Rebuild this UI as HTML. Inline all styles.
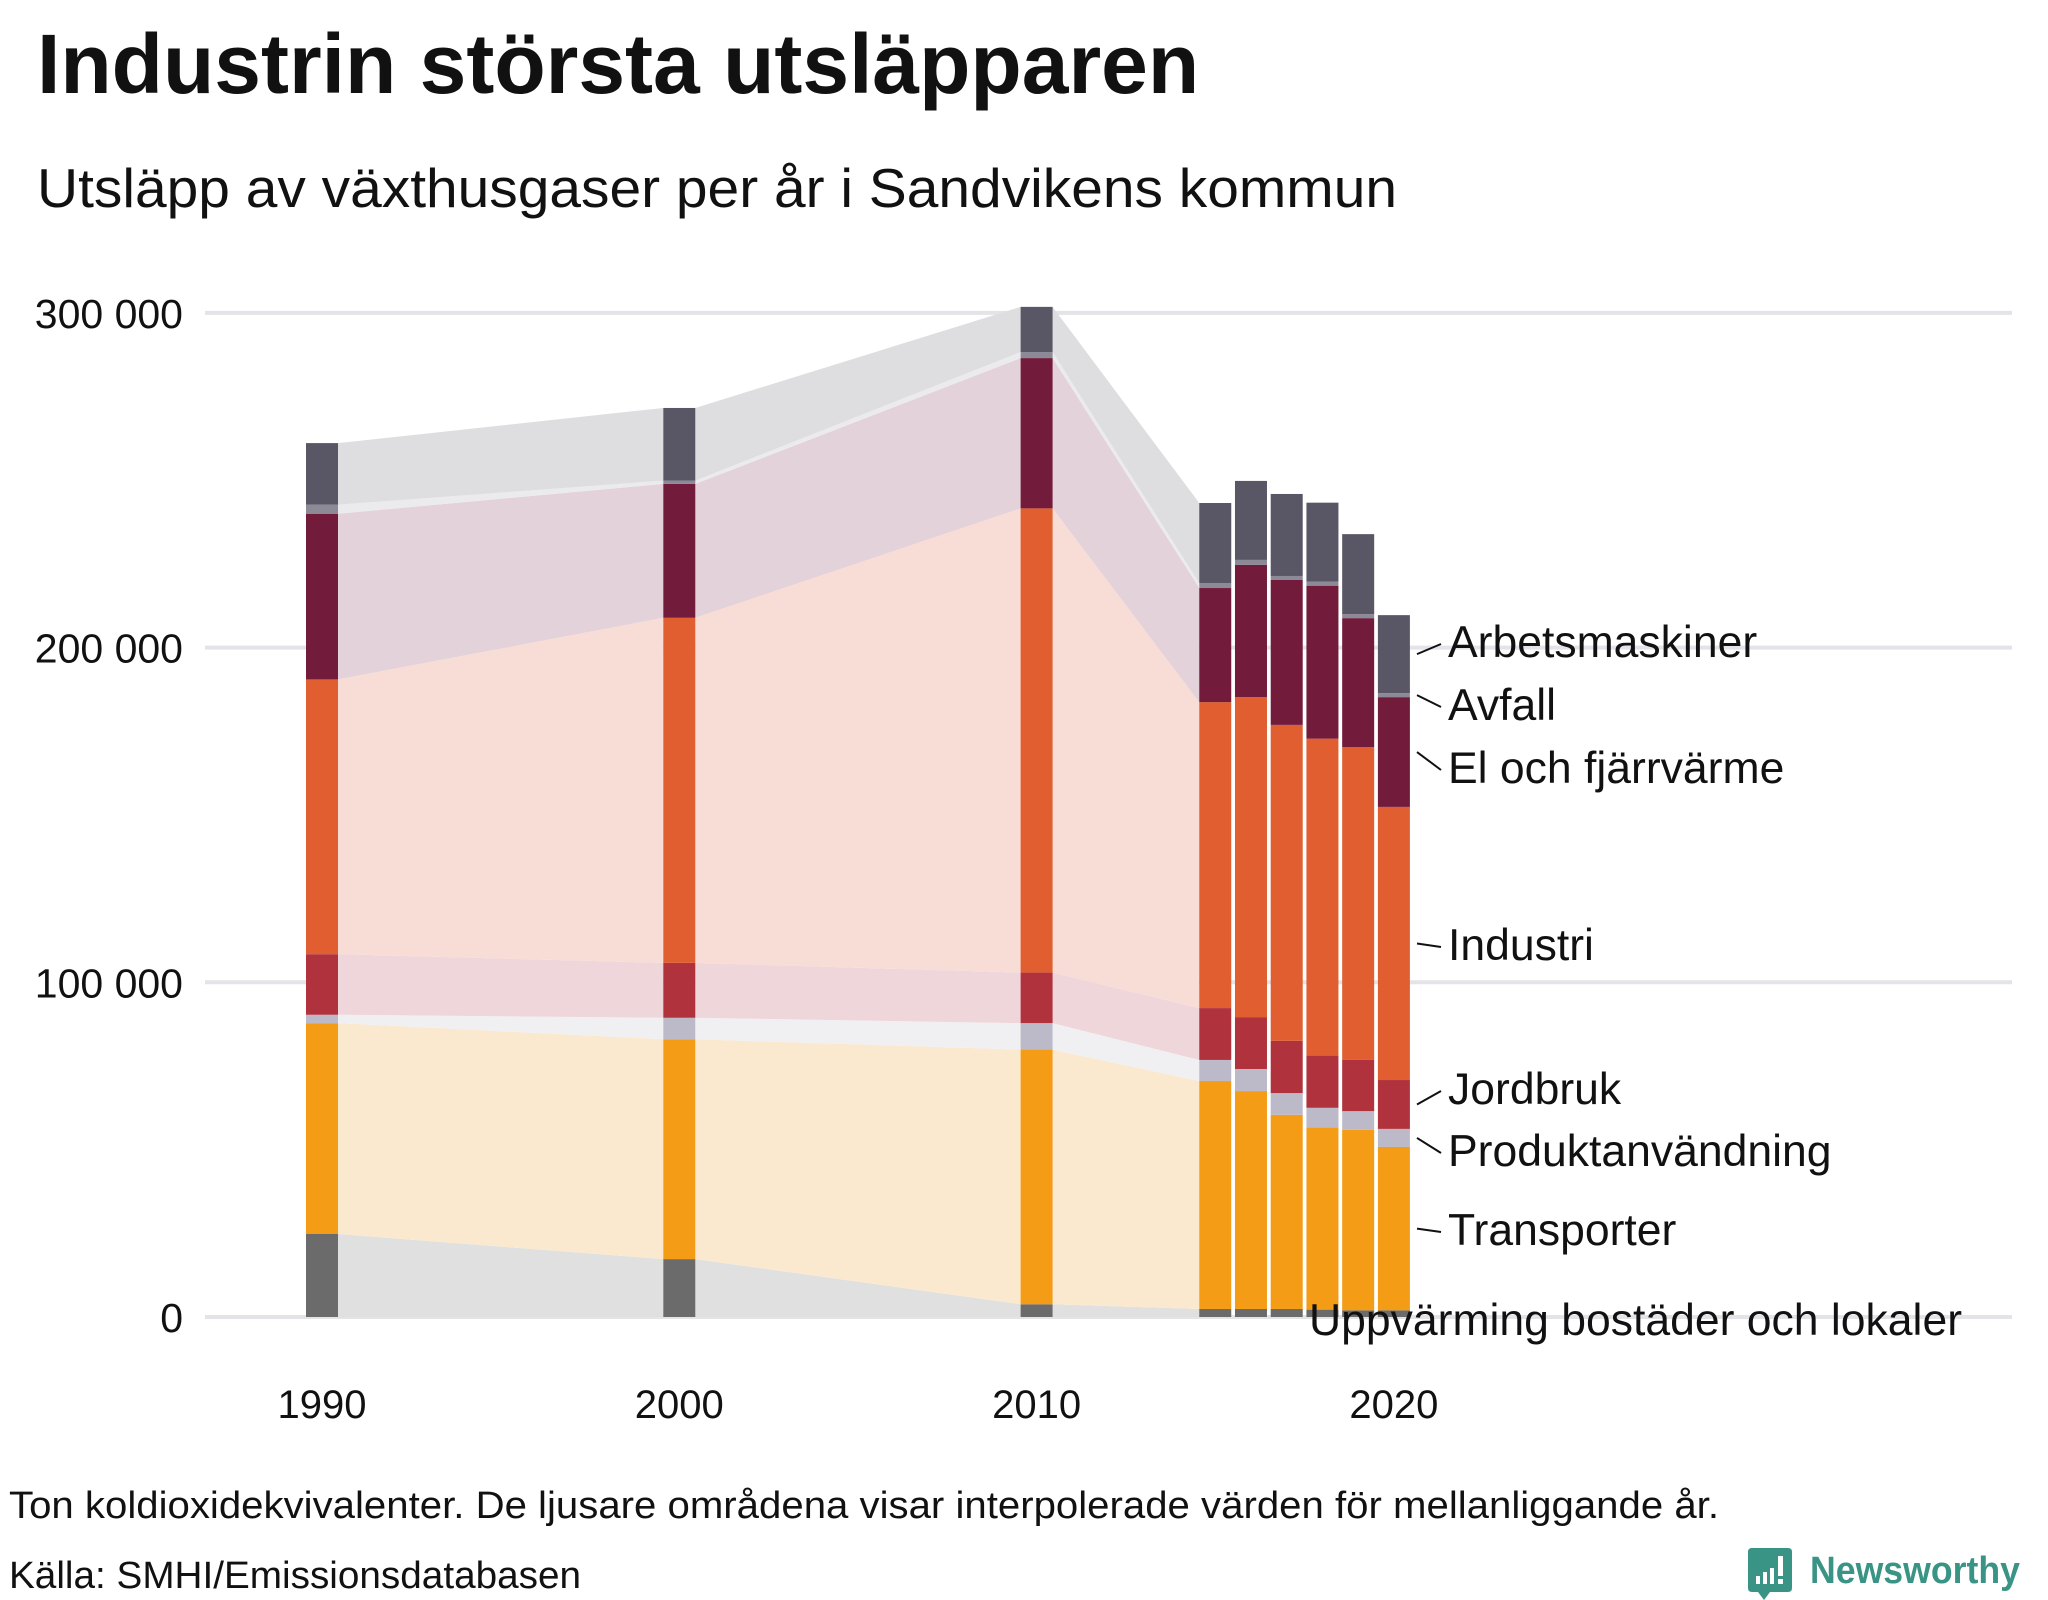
<!DOCTYPE html>
<html><head><meta charset="utf-8"><style>
html,body{margin:0;padding:0;background:#fff;width:2048px;height:1600px;overflow:hidden}
svg{display:block}
text{font-family:"Liberation Sans",sans-serif}
</style></head><body>
<svg id="chart" width="2048" height="1600" viewBox="0 0 2048 1600">
<text x="37" y="93" font-size="84" font-weight="bold" fill="#111">Industrin största utsläpparen</text>
<text x="37" y="207" font-size="55" fill="#111" textLength="1360" lengthAdjust="spacingAndGlyphs">Utsläpp av växthusgaser per år i Sandvikens kommun</text>
<g id="grid"></g>
<g id="ylabels"></g>
<g id="bands"></g>
<g id="bars"></g>
<g id="xlabels"></g>
<g id="legend"></g>
<text x="9" y="1518" font-size="38" fill="#111" textLength="1710" lengthAdjust="spacingAndGlyphs">Ton koldioxidekvivalenter. De ljusare områdena visar interpolerade värden för mellanliggande år.</text>
<text x="9" y="1588" font-size="38" fill="#111" textLength="572" lengthAdjust="spacingAndGlyphs">Källa: SMHI/Emissionsdatabasen</text>
<g>
<path d="M1748 1552 q0-4 4-4 h36 q4 0 4 4 v36 q0 4-4 4 h-18 l-6 8 l-6-8 h-6 q-4 0-4-4z" fill="#3a9485"/>
<rect x="1756" y="1576" width="4" height="8" fill="#fff"/><rect x="1763" y="1572" width="4" height="12" fill="#fff"/><rect x="1770" y="1568" width="4" height="16" fill="#fff"/><rect x="1778" y="1556" width="5" height="20" fill="#fff"/><rect x="1778" y="1579" width="5" height="5" fill="#fff"/>
<text x="1810" y="1583" font-size="38" font-weight="bold" fill="#3a9485" textLength="210" lengthAdjust="spacingAndGlyphs">Newsworthy</text>
</g>
</svg>
<script>
const years = [1990, 2000, 2010, 2015, 2016, 2017, 2018, 2019, 2020];
const seriesNames = ["Uppvärming bostäder och lokaler","Transporter","Produktanvändning","Jordbruk","Industri","El och fjärrvärme","Avfall","Arbetsmaskiner"];
const uppvarming = [24.8, 17.3, 3.8, 2.4, 2.4, 2.4, 2.2, 2.0, 2.0];
const transporter = [63.0, 65.7, 76.1, 68.1, 65.1, 58.0, 54.4, 53.9, 48.8];
const produkt = [2.5, 6.4, 7.9, 6.3, 6.6, 6.5, 5.9, 5.6, 5.4];
const jordbruk = [18.1, 16.4, 15.1, 15.5, 15.5, 15.6, 15.6, 15.3, 14.6];
const industri = [82.1, 103.1, 138.7, 91.4, 95.6, 94.4, 94.7, 93.5, 81.6];
const elFjarr = [49.5, 40.0, 44.9, 34.1, 39.5, 43.3, 45.7, 38.5, 32.8];
const avfall = [2.7, 1.0, 1.8, 1.5, 1.5, 1.2, 1.2, 1.2, 1.2];
const arbetsmaskiner = [18.4, 21.7, 13.5, 23.9, 23.6, 24.5, 23.6, 23.9, 23.3];
const yTicks = [0, 100, 200, 300];
const yTickLabels = ["0", "100 000", "200 000", "300 000"];
const xTicks = [1990, 2000, 2010, 2020];

const NS = "http://www.w3.org/2000/svg";
const colors = ["#6b6b6b","#f59c16","#bcbac8","#b0323c","#e05e2f","#731b3a","#8c8a96","#595766"];
const bandColors = ["#e0e0e0","#fbe9cf","#f0f0f3","#efd6da","#f8ddd6","#e3d2d9","#ebebed","#dedee0"];
const series = [uppvarming, transporter, produkt, jordbruk, industri, elFjarr, avfall, arbetsmaskiner];
const xScale = y => 322 + (y - 1990) * 35.73;
const yScale = v => 1317 - v * 3.347;
const BW = 32;
function mk(tag, attrs, parent){const e=document.createElementNS(NS,tag);for(const k in attrs)e.setAttribute(k,attrs[k]);parent.appendChild(e);return e;}

const grid = document.getElementById('grid'), yl = document.getElementById('ylabels');
yTicks.forEach((t,i)=>{
  const l = mk('line',{x1:205,x2:2012,y1:yScale(t),y2:yScale(t),stroke:'#e3e3e8','stroke-width':4},grid);
  
  
  const tx = mk('text',{x:183,y:yScale(t)+15,'font-size':41,'text-anchor':'end',fill:'#111'},yl);
  tx.textContent = yTickLabels[i];
  
  
});

const stacks = years.map((_,j)=>{let c=0;return series.map(s=>{const b=c;c+=s[j];return [b,c];});});

const bands = document.getElementById('bands');
for(let j=0;j<3;j++){
  const xa = xScale(years[j])+BW/2, xb = xScale(years[j+1])-BW/2;
  series.forEach((s,k)=>{
    const a=stacks[j][k], b=stacks[j+1][k];
    const p = mk('polygon',{points:`${xa},${yScale(a[0])} ${xa},${yScale(a[1])} ${xb},${yScale(b[1])} ${xb},${yScale(b[0])}`,fill:bandColors[k]},bands);
    
    
  });
}

const bars = document.getElementById('bars');
years.forEach((yr,j)=>{
  series.forEach((s,k)=>{
    const [b0,b1]=stacks[j][k];
    const r = mk('rect',{x:xScale(yr)-BW/2,y:yScale(b1),width:BW,height:Math.max(0,yScale(b0)-yScale(b1)),fill:colors[k]},bars);
    
    
  });
});

const xl = document.getElementById('xlabels');
xTicks.forEach(t=>{
  const tx = mk('text',{x:xScale(t),y:1418,'font-size':40,'text-anchor':'middle',fill:'#111'},xl);
  tx.textContent = t;
  
  
});

const lg = document.getElementById('legend');
const labelY = [1335, 1245, 1166, 1104, 960, 783, 720, 657];
const last = stacks[years.length-1];
series.forEach((s,k)=>{
  const mid = yScale((last[k][0]+last[k][1])/2);
  if(k>0){
    const ln = mk('line',{x1:1417,y1:mid,x2:1441,y2:labelY[k]-13,stroke:'#111','stroke-width':2},lg);
    
    
  }
  const tx = mk('text',{x:k===0?1309:1448,y:labelY[k],'font-size':44.5,fill:'#111'},lg);
  tx.textContent = seriesNames[k];
  
  
});
</script>
</body></html>
